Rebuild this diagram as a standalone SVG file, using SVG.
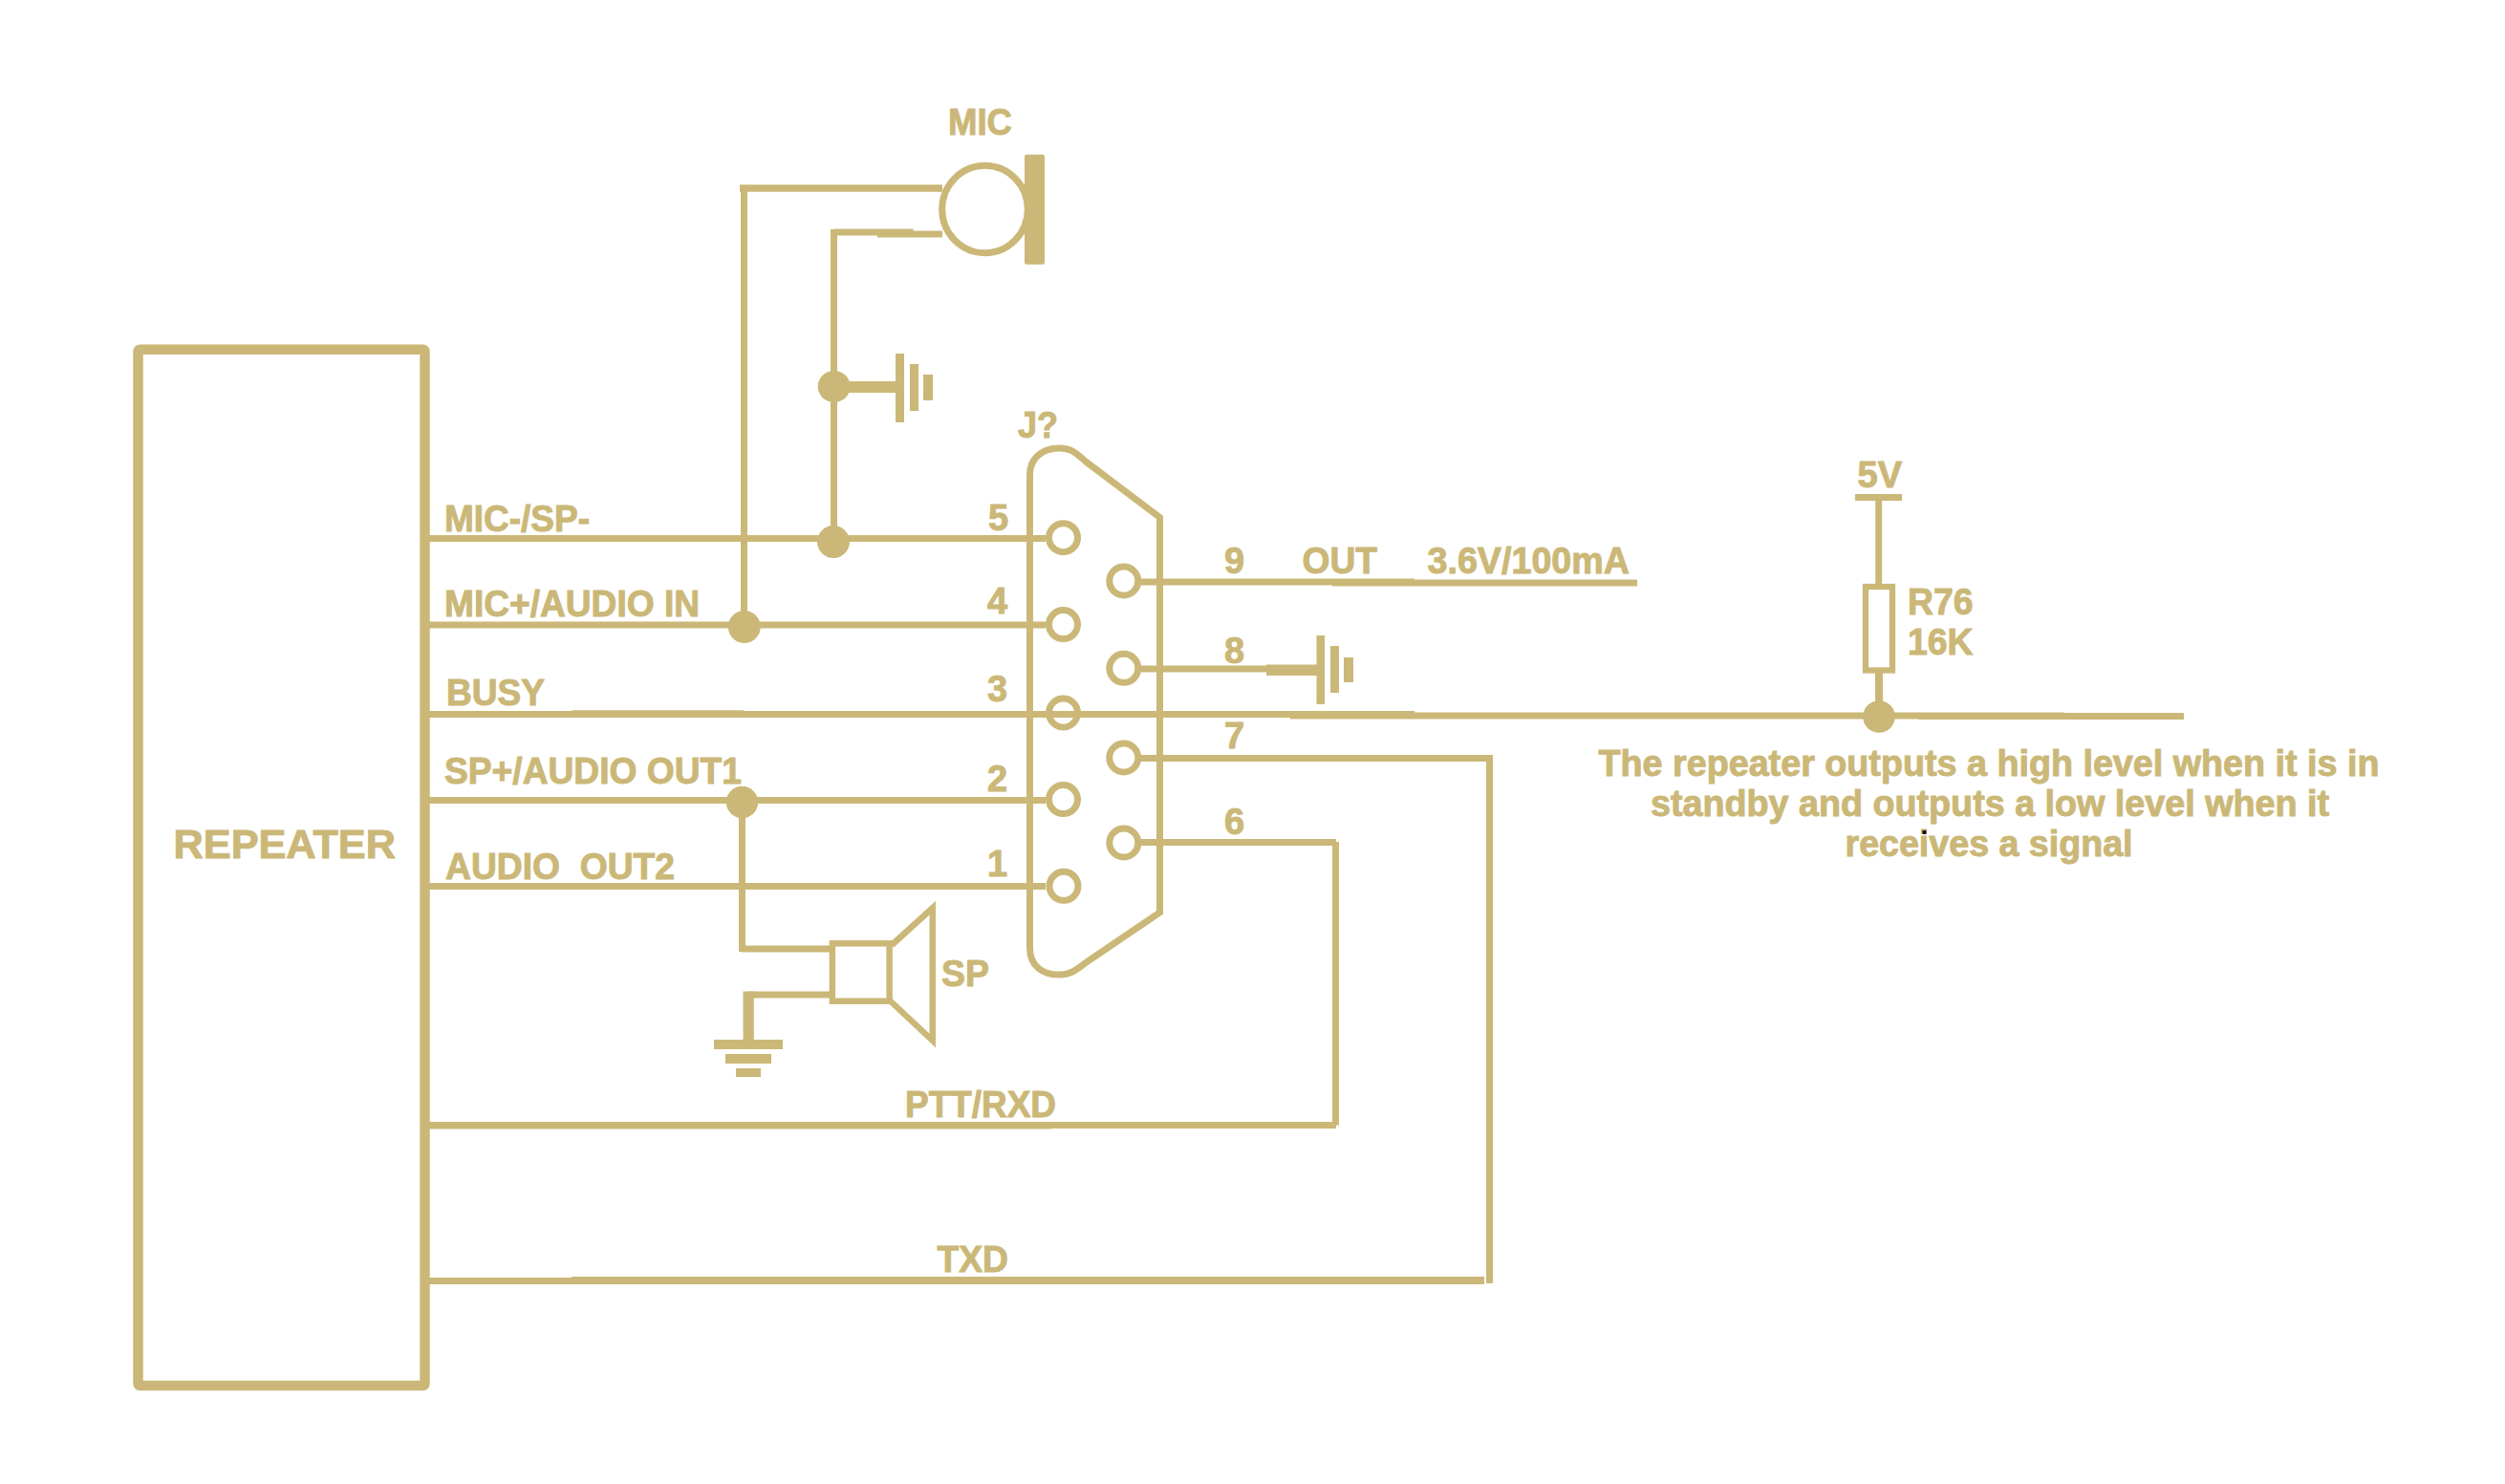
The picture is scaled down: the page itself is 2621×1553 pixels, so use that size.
<svg xmlns="http://www.w3.org/2000/svg" width="2621" height="1553" viewBox="0 0 2621 1553">
<style>
.w{fill:none;stroke:#cbb878;stroke-width:7}
.f{fill:#cbb878;stroke:none}
.t{font-family:"Liberation Sans",Arial,sans-serif;font-weight:700;font-size:38px;fill:#cbb878;stroke:#cbb878;stroke-width:1}
</style>
<rect width="2621" height="1553" fill="#ffffff"/>
<g id="connectors">
<path class="w" d="M444 563.4H1094"/>
<path class="w" d="M444 654H1094"/>
<path class="w" d="M444 747.5H1480"/>
<path class="w" d="M598 746.8H778"/>
<path class="w" d="M1350 749H2160"/>
<path class="w" d="M2007 749.5H2285"/>
<path class="w" d="M444 837.5H1094"/>
<path class="w" d="M444 927.6H1094"/>
<path class="w" d="M1194 609H1480"/>
<path class="w" d="M1394 610H1713"/>
<path class="w" d="M1194 700H1330"/>
<path class="w" d="M1194 793.5H1562"/>
<path class="w" d="M1558.5 790V1343"/>
<path class="w" d="M1194 881.5H1398"/>
<path class="w" d="M1397.5 881V1177.6"/>
<path class="w" d="M444 1177.5H1398"/>
<path class="w" d="M444 1178H1100"/>
<path class="w" d="M444 1340.5H1553"/>
<path class="w" d="M598 1340H1553" style="stroke-width:8"/>
<path class="w" d="M774 197H986" style="stroke-width:7.5"/>
<path class="w" d="M778.5 197V656"/>
<path class="w" d="M872.5 243H955.6"/>
<path class="w" d="M918 245H986"/>
<path class="w" d="M872.5 240V567"/>
<path class="w" d="M776.5 839V996"/>
<path class="w" d="M776.5 993H868"/>
<path class="w" d="M783 1041H868"/>
<path class="w" d="M1965.7 524V612"/>
<path class="w" d="M1966 702V740" style="stroke-width:8"/>
</g>
<g id="repeater">
<rect x="144.5" y="365.7" width="300" height="1084.3" rx="2" class="w" style="stroke-width:10.5"/>
<text class="t" x="181.5" y="897.5" textLength="232.5" lengthAdjust="spacingAndGlyphs" style="font-size:43px">REPEATER</text>
</g>
<g id="wire-labels">
<text class="t" x="465" y="555.9" textLength="152" lengthAdjust="spacingAndGlyphs">MIC-/SP-</text>
<text class="t" x="465" y="644.5" textLength="267" lengthAdjust="spacingAndGlyphs">MIC+/AUDIO IN</text>
<text class="t" x="467" y="737.8" textLength="103" lengthAdjust="spacingAndGlyphs">BUSY</text>
<text class="t" x="465" y="820.4" textLength="311" lengthAdjust="spacingAndGlyphs">SP+/AUDIO OUT1</text>
<text class="t" x="466" y="919.7" textLength="240" lengthAdjust="spacingAndGlyphs" xml:space="preserve">AUDIO  OUT2</text>
<text class="t" x="947" y="1169" textLength="158" lengthAdjust="spacingAndGlyphs">PTT/RXD</text>
<text class="t" x="980.5" y="1330.7" textLength="74.5" lengthAdjust="spacingAndGlyphs">TXD</text>
<text class="t" x="1362.5" y="599.5" textLength="78.5" lengthAdjust="spacingAndGlyphs">OUT</text>
<text class="t" x="1493.5" y="600" textLength="211.5" lengthAdjust="spacingAndGlyphs">3.6V/100mA</text>
</g>
<g id="mic">
<text class="t" x="992" y="141" textLength="67" lengthAdjust="spacingAndGlyphs">MIC</text>
<ellipse cx="1030.5" cy="219" rx="44.8" ry="45.7" class="w"/>
<rect x="1072" y="161.7" width="21" height="115" rx="2" class="f"/>
</g>
<g id="mic-ground">
<ellipse cx="872.7" cy="404.5" rx="17" ry="16.5" class="f"/>
<rect x="880" y="399" width="60" height="12" class="f"/>
<rect x="937" y="370" width="9" height="72" class="f"/>
<rect x="952" y="381" width="9" height="49" class="f"/>
<rect x="966" y="392" width="10" height="27" class="f"/>
</g>
<g id="junctions">
<ellipse cx="872" cy="567" rx="17" ry="17" class="f"/>
<ellipse cx="778.8" cy="656" rx="17" ry="17" class="f"/>
<ellipse cx="776.5" cy="839.5" rx="16.7" ry="16.7" class="f"/>
<ellipse cx="1966" cy="750" rx="16.8" ry="16.8" class="f"/>
</g>
<g id="connector-j">
<text class="t" x="1065" y="457.7" textLength="42" lengthAdjust="spacingAndGlyphs">J?</text>
<path class="w" d="M1077.5 497C1077.5 480 1090 469 1108 469C1120 469 1125 473 1136 483L1213.5 541.5V955L1138 1006C1125 1016 1120 1020 1108 1020C1090 1020 1077.5 1010 1077.5 992Z"/>
<circle cx="1112.5" cy="562.7" r="15" class="w"/>
<circle cx="1112.5" cy="653.6" r="15" class="w"/>
<circle cx="1112.5" cy="746" r="15" class="w"/>
<circle cx="1112.5" cy="836.6" r="15" class="w"/>
<circle cx="1113" cy="927.3" r="15" class="w"/>
<circle cx="1175.8" cy="608" r="15" class="w"/>
<circle cx="1175.8" cy="699.3" r="15" class="w"/>
<circle cx="1175.8" cy="793" r="15" class="w"/>
<circle cx="1175.8" cy="882" r="15" class="w"/>
<text class="t" x="1034" y="555">5</text>
<text class="t" x="1033" y="642">4</text>
<text class="t" x="1033" y="733.5">3</text>
<text class="t" x="1033" y="828">2</text>
<text class="t" x="1033" y="916.5">1</text>
<text class="t" x="1281" y="600.4">9</text>
<text class="t" x="1281" y="693.8">8</text>
<text class="t" x="1281" y="782.6">7</text>
<text class="t" x="1281" y="872.8">6</text>
</g>
<g id="out-ground">
<rect x="1325" y="695.5" width="55" height="11.5" class="f"/>
<rect x="1377.5" y="665" width="8.5" height="72" class="f"/>
<rect x="1392" y="676" width="9" height="49" class="f"/>
<rect x="1406" y="688" width="10" height="26" class="f"/>
</g>
<g id="speaker">
<rect x="870.9" y="987.3" width="59.7" height="60.4" class="w" style="stroke-width:6.5"/>
<path class="w" d="M933 989L975.8 950V1089L931 1047" style="stroke-width:6.5"/>
<text class="t" x="985" y="1031.7" textLength="50" lengthAdjust="spacingAndGlyphs">SP</text>
</g>
<g id="speaker-ground">
<rect x="777.5" y="1037.5" width="11.3" height="52" class="f"/>
<rect x="747" y="1088" width="72" height="10" class="f"/>
<rect x="759" y="1103" width="48" height="10" class="f"/>
<rect x="770" y="1118" width="26" height="9" class="f"/>
</g>
<g id="r76">
<text class="t" x="1943.5" y="510" textLength="46.5" lengthAdjust="spacingAndGlyphs">5V</text>
<rect x="1941" y="517" width="49" height="7" class="f"/>
<rect x="1952" y="614" width="28" height="87.5" class="w" style="stroke-width:6.3"/>
<text class="t" x="1996" y="643.3" textLength="68.5" lengthAdjust="spacingAndGlyphs">R76</text>
<text class="t" x="1996" y="685.3" textLength="68.5" lengthAdjust="spacingAndGlyphs">16K</text>
</g>
<g id="note">
<text class="t" x="1672.5" y="811.7" textLength="817" lengthAdjust="spacingAndGlyphs">The repeater outputs a high level when it is in</text>
<text class="t" x="1727" y="854" textLength="710" lengthAdjust="spacingAndGlyphs">standby and outputs a low level when it</text>
<text class="t" x="1930.5" y="895.7" textLength="301" lengthAdjust="spacingAndGlyphs">receives a signal</text>
<rect x="2011.5" y="869" width="4" height="4" fill="#111111"/>
</g>
</svg>
